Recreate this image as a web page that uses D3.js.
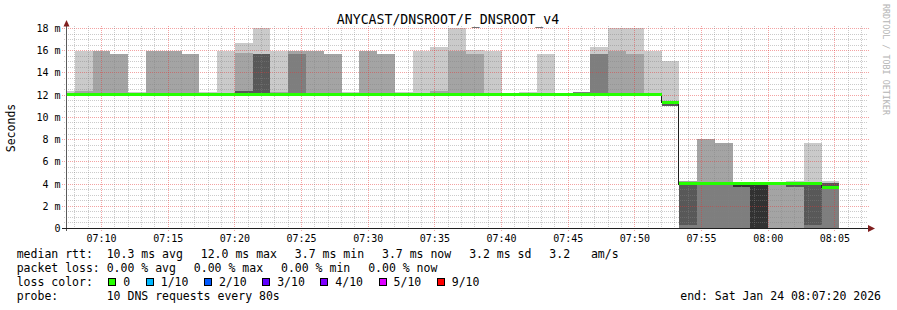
<!DOCTYPE html>
<html><head><meta charset="utf-8">
<script src="https://cdn.jsdelivr.net/npm/d3@7"></script>
<style>body{margin:0;background:#fff}svg{display:block}</style>
</head><body>
<svg id="c" width="897" height="310"></svg>
<script>
// ---------------- data ----------------
const title = "ANYCAST/DNSROOT/F_DNSROOT_v4";
const yLabel = "Seconds";
const watermark = "RRDTOOL / TOBI OETIKER";
const viewStartStr = "2026-01-24 07:07:20";
const viewEndStr = "2026-01-24 08:07:20";
const firstStepStr = "2026-01-24 07:06:40";
const stepSeconds = 80;
// median rtt per 80 s step (ms)
const medians = [
  12.0,12.0,12.0,12.0,12.0,12.0,12.0,12.0,12.0,12.0,
  12.0,12.0,12.0,12.0,12.0,12.0,12.0,12.0,12.0,12.0,
  12.0,12.0,12.0,12.0,12.0,12.0,12.0,12.0,12.0,12.0,
  12.0,12.0,12.0,12.0,11.3,4.0,4.0,4.0,4.0,4.0,
  4.0,4.0,4.0,3.65
];
// sorted ping rtts per step (ms), 10 pings each
const pings = [
  [12,12,12,12,12,12,12,12,12,12.3],
  [12,12,12,12,12,12,12,12,12.3,15.93],
  [12,12,12,12,12,12,12,12,15.93,15.93],
  [12,12,12,12,12,12,12,12,15.66,15.66],
  [12,12,12,12,12,12,12,12,12,12.25],
  [12,12,12,12,12,12,12,12,15.93,15.93],
  [12,12,12,12,12,12,12,12,15.93,15.93],
  [12,12,12,12,12,12,12,12,15.66,15.66],
  [12,12,12,12,12,12,12,12,12,12.2],
  [12,12,12,12,12,12,12,12,12,15.93],
  [12,12,12,12,12,12,12.3,12.3,15.75,16.65],
  [12,12,12,12,12,12,15.66,15.66,15.66,18.5],
  [12,12,12,12,12,12,12,12,12.2,15.93],
  [12,12,12,12,12,12,12,15.66,15.93,15.93],
  [12,12,12,12,12,12,12,12,15.93,15.93],
  [12,12,12,12,12,12,12,12,15.66,15.66],
  [12,12,12,12,12,12,12,12,12,12.2],
  [12,12,12,12,12,12,12,12,15.93,15.93],
  [12,12,12,12,12,12,12,12,15.66,15.66],
  [12,12,12,12,12,12,12,12,12,12.2],
  [12,12,12,12,12,12,12,12,12,15.93],
  [12,12,12,12,12,12,12,12,12.3,16.3],
  [12,12,12,12,12,12,12,12,15.95,18.5],
  [12,12,12,12,12,12,12,12,15.66,16.0],
  [12,12,12,12,12,12,12,12,12,15.93],
  [12,12,12,12,12,12,12,12,12,12.1],
  [12,12,12,12,12,12,12,12,12,12.2],
  [12,12,12,12,12,12,12,12,12,15.66],
  [12,12,12,12,12,12,12,12,12,12],
  [12,12,12,12,12,12,12,12.25,12.25,12.25],
  [12,12,12,12,12,12,12,15.66,15.66,16.3],
  [12,12,12,12,12,12,12,12,15.93,18.5],
  [12,12,12,12,12,12,12,12,15.66,18.5],
  [12,12,12,12,12,12,12,12,12,15.93],
  [11.0,11.0,11.0,11.0,11.2,11.3,11.3,11.3,11.3,15.0],
  [0,0,0,0.27,4,4,4,4,4.26,4.26],
  [0,0,0,4,4,4,4,4,8.0,8.0],
  [0,0,0,4,4,4,4,4,7.65,7.65],
  [0,0,0,3.66,3.66,4,4,4,4,4],
  [0,0,0,0,0,4,4,4,4,4],
  [0,0,4,4,4,4,4,4,4,4],
  [0,0,3.66,3.66,4,4,4,4,4,4.26],
  [0,0,0,0.27,4,4,4,4,4,7.65],
  [0,0,0,3.6,3.65,3.65,4.02,4.02,4.02,4.26]
];
const yTicks = [0,2,4,6,8,10,12,14,16,18];
const yTickLabels = ["0","2 m","4 m","6 m","8 m","10 m","12 m","14 m","16 m","18 m"];
const lossLabels = ["0","1/10","2/10","3/10","4/10","5/10","9/10"];
const lossColors = ["#26ff00","#00b8ff","#0059ff","#5e00ff","#7e00ff","#dd00ff","#ff0000"];
const smokeColors = ["#cacaca","#a4a4a4","#7e7e7e","#585858","#323232"];
const legendRtt = ["median rtt:  10.3 ms avg","12.0 ms max","3.7 ms min","3.7 ms now","3.2 ms sd","3.2   am/s"];
const legendLoss = ["packet loss: 0.00 % avg","0.00 % max","0.00 % min","0.00 % now"];
const legendLossColorTitle = "loss color:";
const legendProbe = "probe:       10 DNS requests every 80s";
const legendEnd = "end: Sat Jan 24 08:07:20 2026";

// ---------------- drawing ----------------
const svg = d3.select("#c");
const MONO = "'DejaVu Sans Mono', monospace";
const parse = d3.timeParse("%Y-%m-%d %H:%M:%S");
const t0 = parse(viewStartStr), t1 = parse(viewEndStr), tFirst = parse(firstStepStr);
const x = d3.scaleTime().domain([t0, t1]).range([66, 866]);
const y = d3.scaleLinear().domain([0, 18]).range([228, 28]);
const R = Math.round;
const stepStart = i => d3.timeSecond.offset(tFirst, i * stepSeconds);

svg.append("rect").attr("width", 897).attr("height", 310).attr("fill", "#fff");
svg.append("defs").append("clipPath").attr("id", "clip")
  .append("rect").attr("x", 66).attr("y", 28).attr("width", 800).attr("height", 200);

const plot = svg.append("g").attr("clip-path", "url(#clip)").attr("shape-rendering", "crispEdges");
// smoke
pings.forEach((p, i) => {
  const xa = R(x(stepStart(i))), xb = R(x(stepStart(i + 1)));
  for (let k = 0; k < 5; k++) {
    const lo = p[k], hi = p[9 - k];
    if (hi <= lo) continue;
    const ya = R(y(hi)), yb = R(y(lo));
    plot.append("rect").attr("x", xa).attr("y", ya).attr("width", xb - xa)
      .attr("height", Math.max(yb - ya, 1)).attr("fill", smokeColors[k]);
  }
});

// grid
const grid = svg.append("g").attr("shape-rendering", "crispEdges");
const minorCol = "rgba(130,130,130,0.42)", majorCol = "rgba(228,50,50,0.45)";
const yMinor = d3.range(0, 18.01, 0.5);
yMinor.forEach(v => {
  const major = Math.abs(v / 2 - Math.round(v / 2)) < 1e-6;
  const yy = R(y(v)) + 0.5 - (v === 0 ? 0 : 0);
  if (v === 0) return;
  grid.append("line").attr("x1", major ? 62 : 64).attr("x2", major ? 870 : 868)
    .attr("y1", yy).attr("y2", yy).attr("stroke", major ? majorCol : minorCol)
    .attr("stroke-dasharray", "1,1");
});
const minutes = d3.timeMinute.every(1).range(t0, t1);
minutes.forEach(t => {
  const major = t.getMinutes() % 5 === 0;
  const xx = Math.floor(x(t)) + 0.5;
  grid.append("line").attr("x1", xx).attr("x2", xx).attr("y1", 26).attr("y2", major ? 231 : 230)
    .attr("stroke", major ? majorCol : minorCol).attr("stroke-dasharray", "1,1");
});

// median line (dark) and loss-coloured median bars
const medPts = [];
medians.forEach((m, i) => { medPts.push([stepStart(i), m]); });
medPts.push([stepStart(medians.length), medians[medians.length - 1]]);
const medLine = d3.line().curve(d3.curveStepAfter)
  .x(d => R(x(d[0])) - 0.5).y(d => R(y(d[1])) + 0.5);
svg.append("g").attr("clip-path", "url(#clip)").append("path").attr("d", medLine(medPts))
  .attr("fill", "none").attr("stroke", "#202020").attr("stroke-width", 1).attr("shape-rendering", "crispEdges");
const medG = svg.append("g").attr("clip-path", "url(#clip)").attr("shape-rendering", "crispEdges");
medians.forEach((m, i) => {
  const xa = R(x(stepStart(i))), xb = R(x(stepStart(i + 1)));
  const yc = y(m);
  medG.append("rect").attr("x", xa).attr("y", R(yc - 1.5)).attr("width", xb - xa).attr("height", 3)
    .attr("fill", lossColors[0]);
});

// axes
const ax = svg.append("g").attr("shape-rendering", "crispEdges");
ax.append("line").attr("x1", 66.5).attr("x2", 66.5).attr("y1", 25).attr("y2", 231).attr("stroke", "#5a5a5a");
ax.append("line").attr("x1", 62).attr("x2", 869).attr("y1", 228.5).attr("y2", 228.5).attr("stroke", "#202020");
svg.append("path").attr("d", "M66.5,20 L63.5,26.5 L69.5,26.5 Z").attr("fill", "#801f1f");
svg.append("path").attr("d", "M875,228.5 L868,225 L868,232 Z").attr("fill", "#801f1f");

// y tick labels
yTicks.forEach((v, i) => {
  svg.append("text").attr("x", 60.5).attr("y", R(y(v)) + 4).attr("text-anchor", "end")
    .attr("font-family", MONO).attr("font-size", "10px").attr("fill", "#000")
    .text(yTickLabels[i]);
});
// x tick labels
x.ticks(d3.timeMinute.every(5)).forEach(t => {
  svg.append("text").attr("x", x(t)).attr("y", 241.5).attr("text-anchor", "middle")
    .attr("font-family", MONO).attr("font-size", "10px").attr("fill", "#000")
    .text(d3.timeFormat("%H:%M")(t));
});

// title, y label, watermark
svg.append("text").attr("x", 448).attr("y", 23.5).attr("text-anchor", "middle")
  .attr("font-family", MONO).attr("font-size", "13.2px").attr("fill", "#000").text(title);
svg.append("text").attr("transform", "translate(15,128) rotate(-90)").attr("text-anchor", "middle")
  .attr("font-family", MONO).attr("font-size", "11.5px").attr("fill", "#000").text(yLabel);
svg.append("text").attr("transform", "translate(883,4) rotate(90)").attr("text-anchor", "start")
  .attr("font-family", MONO).attr("font-size", "8.4px").attr("fill", "#b4b4b4").text(watermark);

// legend
const LF = "11.5px";
function legendRow(items, yb, x0, gap) {
  let xx = x0;
  items.forEach(s => {
    const t = svg.append("text").attr("x", xx).attr("y", yb).attr("font-family", MONO)
      .attr("font-size", LF).attr("fill", "#000").attr("xml:space", "preserve").style("white-space", "pre").text(s);
    xx += t.node().getComputedTextLength() + gap;
  });
}
legendRow(legendRtt, 258, 16.7, 17.9);
legendRow(legendLoss, 272.2, 16.7, 17.9);
svg.append("text").attr("x", 16.7).attr("y", 286.4).attr("font-family", MONO).attr("font-size", LF)
  .attr("fill", "#000").text(legendLossColorTitle);
let bx = 108.3;
lossLabels.forEach((lab, i) => {
  svg.append("rect").attr("x", R(bx) + 0.5).attr("y", 278.5).attr("width", 7).attr("height", 7)
    .attr("fill", lossColors[i]).attr("stroke", "#000").attr("shape-rendering", "crispEdges");
  const t = svg.append("text").attr("x", bx + 15).attr("y", 286.4).attr("font-family", MONO)
    .attr("font-size", LF).attr("fill", "#000").text(lab);
  bx += 15 + t.node().getComputedTextLength() + 15.5;
});
svg.append("text").attr("x", 16.7).attr("y", 300.4).attr("font-family", MONO).attr("font-size", LF)
  .attr("fill", "#000").style("white-space", "pre").text(legendProbe);
svg.append("text").attr("x", 881).attr("y", 300.4).attr("text-anchor", "end").attr("font-family", MONO)
  .attr("font-size", LF).attr("fill", "#000").text(legendEnd);
</script>
</body></html>
